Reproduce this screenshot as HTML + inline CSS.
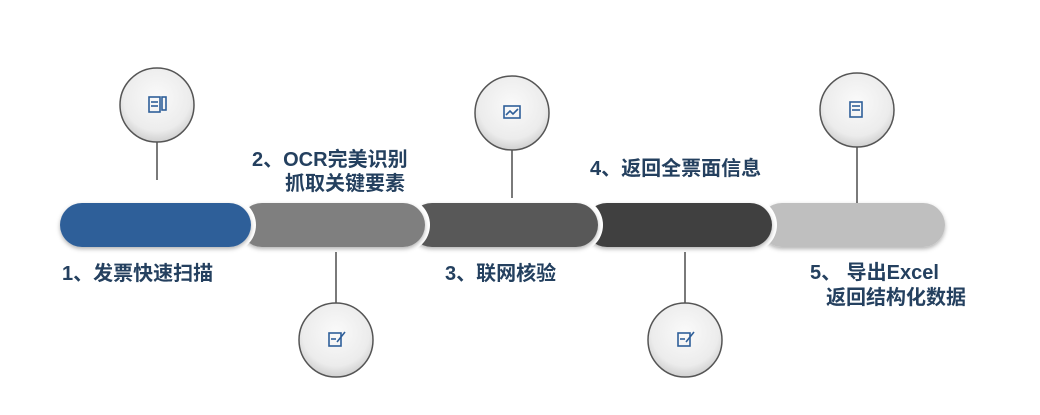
<!DOCTYPE html>
<html><head><meta charset="utf-8"><style>
body{margin:0;background:#fff;}
svg{display:block}
text{font-family:"Liberation Sans","Noto Sans CJK SC",sans-serif;font-weight:bold;font-size:20px;fill:#24405f}
</style></head><body>
<svg width="1040" height="415" viewBox="0 0 1040 415">
<defs>
<filter id="sh" x="-20%" y="-50%" width="140%" height="200%"><feDropShadow dx="0" dy="2" stdDeviation="2" flood-color="#000" flood-opacity="0.3"/></filter>
<radialGradient id="cg" cx="50%" cy="40%" r="60%"><stop offset="0" stop-color="#fafafa"/><stop offset="0.75" stop-color="#ececec"/><stop offset="1" stop-color="#d0d0d0"/></radialGradient>
</defs>
<g stroke="#333" stroke-width="1.3">
<line x1="157" y1="140" x2="157" y2="180"/>
<line x1="336" y1="245" x2="336" y2="305"/>
<line x1="512" y1="148" x2="512" y2="206"/>
<line x1="685" y1="245" x2="685" y2="305"/>
<line x1="857" y1="146" x2="857" y2="206"/>
</g>
<g filter="url(#sh)">
<rect x="760" y="203" width="185" height="44" rx="22" fill="#bfbfbf"/>
</g>
<rect x="580" y="198" width="197" height="54" rx="27" fill="#fff"/>
<g filter="url(#sh)"><rect x="585" y="203" width="187" height="44" rx="22" fill="#3f3f3f"/></g>
<rect x="405" y="198" width="198" height="54" rx="27" fill="#fff"/>
<g filter="url(#sh)"><rect x="410" y="203" width="188" height="44" rx="22" fill="#595959"/></g>
<rect x="235" y="198" width="195" height="54" rx="27" fill="#fff"/>
<g filter="url(#sh)"><rect x="240" y="203" width="185" height="44" rx="22" fill="#7f7f7f"/></g>
<path d="M200,198 H229 A27,27 0 0 1 229,252 H200 Z" fill="#fff"/>
<g filter="url(#sh)"><rect x="60" y="203" width="191" height="44" rx="22" fill="#2f5f99"/></g>
<g stroke="#555" stroke-width="1.5" fill="url(#cg)">
<circle cx="157" cy="105" r="37"/>
<circle cx="336" cy="340" r="37"/>
<circle cx="512" cy="113" r="37"/>
<circle cx="685" cy="340" r="37"/>
<circle cx="857" cy="110" r="37"/>
</g>
<g fill="none" stroke="#2f5f99" stroke-width="1.6">
<rect x="149" y="97" width="11" height="15"/><line x1="151" y1="102" x2="158" y2="102"/><line x1="151" y1="106" x2="158" y2="106"/><rect x="162" y="97" width="4" height="13"/>
<rect x="329" y="333" width="12" height="13"/><line x1="331" y1="339" x2="336" y2="339"/><line x1="337" y1="342" x2="345" y2="332"/>
<rect x="504" y="106" width="16" height="12"/><polyline points="506,115 510,111 513,114 518,109"/>
<rect x="678" y="333" width="12" height="13"/><line x1="680" y1="339" x2="685" y2="339"/><line x1="686" y1="342" x2="694" y2="332"/>
<rect x="850" y="102" width="12" height="15"/><line x1="852" y1="106" x2="860" y2="106"/><line x1="852" y1="110" x2="860" y2="110"/>
</g>
<text x="62" y="280">1、发票快速扫描</text>
<text x="252" y="166">2、OCR完美识别</text>
<text x="285" y="190">抓取关键要素</text>
<text x="445" y="280">3、联网核验</text>
<text x="590" y="175">4、返回全票面信息</text>
<text x="810" y="279">5、 导出Excel</text>
<text x="826" y="304">返回结构化数据</text>
</svg>
</body></html>
